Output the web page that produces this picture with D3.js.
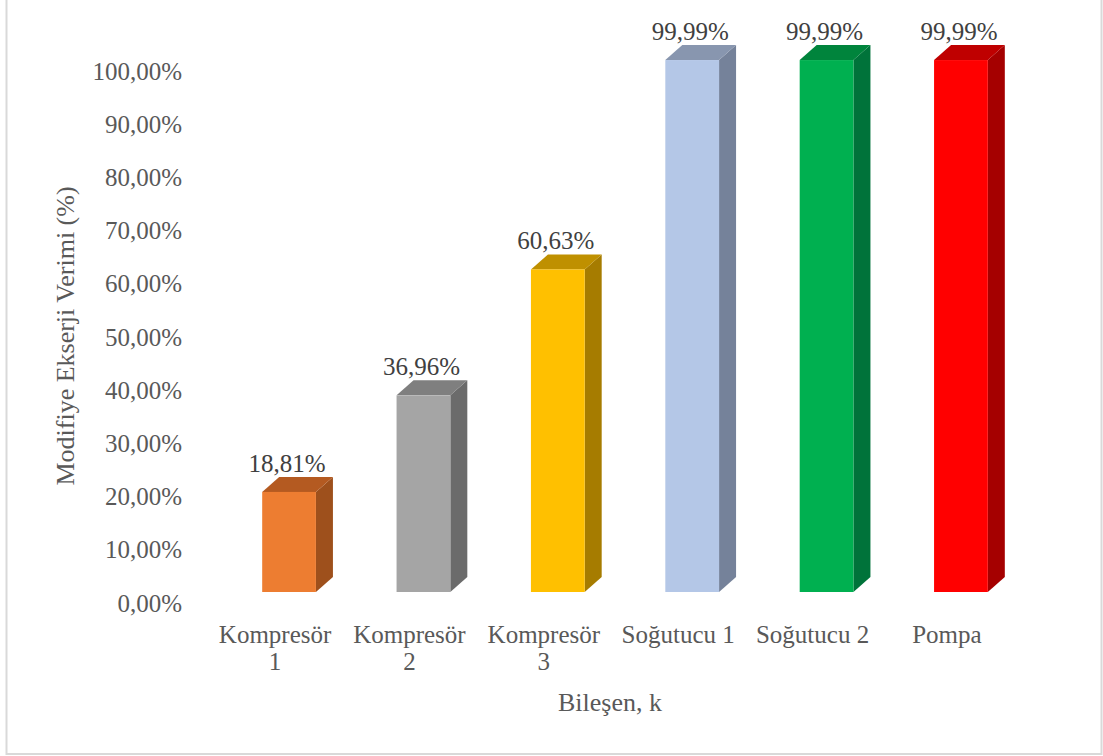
<!DOCTYPE html>
<html>
<head>
  <meta charset="utf-8">
  <title>Modifiye Ekserji Verimi</title>
  <script src="https://cdn.jsdelivr.net/npm/d3@7/dist/d3.min.js"></script>
  <style>
    body { margin: 0; background: #fff; }
  </style>
</head>
<body>
<script>
// veri
var categories = ["Kompresör 1", "Kompresör 2", "Kompresör 3", "Soğutucu 1", "Soğutucu 2", "Pompa"];
var categoryLines = [["Kompresör", "1"], ["Kompresör", "2"], ["Kompresör", "3"], ["Soğutucu 1"], ["Soğutucu 2"], ["Pompa"]];
var values = [18.81, 36.96, 60.63, 99.99, 99.99, 99.99];
var valueLabels = ["18,81%", "36,96%", "60,63%", "99,99%", "99,99%", "99,99%"];
var yTicks = [0, 10, 20, 30, 40, 50, 60, 70, 80, 90, 100];
// renkler: ön, yan, üst
var frontColors = ["#ED7D31", "#A5A5A5", "#FFC000", "#B4C7E7", "#00B050", "#FF0000"];
var sideColors  = ["#9E501C", "#6B6B6B", "#A67C00", "#75829A", "#00733A", "#A50000"];
var topColors   = ["#B45A21", "#7F7F7F", "#BF9000", "#8896AF", "#00843C", "#BF0000"];

var width = 1103, height = 756;
var depthX = 17, depthY = 15;
var FONT = "'Liberation Serif'";

var svg = d3.select("body").append("svg")
    .attr("width", width)
    .attr("height", height);

// çerçeve
svg.append("rect")
   .attr("x", 6.5).attr("y", -2)
   .attr("width", 1095).attr("height", 756)
   .attr("fill", "none")
   .attr("stroke", "#D9D9D9")
   .attr("stroke-width", 2);

var xScale = d3.scaleBand()
    .domain(categories)
    .range([195, 1055])
    .paddingInner(0.6)
    .paddingOuter(0.5);

var yScale = d3.scaleLinear()
    .domain([0, 100])
    .range([592, 60]);

// y ekseni etiketleri (Excel 3B: arka duvar hizası)
var yAxis = d3.axisLeft(yScale)
    .tickValues(yTicks)
    .tickSize(0)
    .tickPadding(0)
    .tickFormat(function(d){ return d3.format(".2f")(d).replace(".", ",") + "%"; });

var gy = svg.append("g")
    .attr("transform", "translate(182,11)")
    .call(yAxis);
gy.attr("font-family", null).attr("font-size", null);
gy.select(".domain").remove();
gy.selectAll("text")
  .style("font-family", FONT)
  .style("font-size", "25px")
  .style("fill", "#595959");

// çubuklar
var bars = svg.append("g").selectAll("g.bar")
    .data(values)
    .enter().append("g").attr("class", "bar");

var bw = xScale.bandwidth();

bars.append("path")   // yan yüz
    .attr("d", function(d, i){
        var x = xScale(categories[i]) + bw, y0 = yScale(0), y1 = yScale(d);
        return "M" + x + "," + y0 + "L" + x + "," + y1 +
               "L" + (x + depthX) + "," + (y1 - depthY) +
               "L" + (x + depthX) + "," + (y0 - depthY) + "Z";
    })
    .attr("fill", function(d, i){ return sideColors[i]; });

bars.append("path")   // üst yüz
    .attr("d", function(d, i){
        var x = xScale(categories[i]), y1 = yScale(d);
        return "M" + x + "," + y1 + "L" + (x + bw) + "," + y1 +
               "L" + (x + bw + depthX) + "," + (y1 - depthY) +
               "L" + (x + depthX) + "," + (y1 - depthY) + "Z";
    })
    .attr("fill", function(d, i){ return topColors[i]; });

bars.append("rect")   // ön yüz
    .attr("x", function(d, i){ return xScale(categories[i]); })
    .attr("y", function(d){ return yScale(d); })
    .attr("width", bw)
    .attr("height", function(d){ return yScale(0) - yScale(d); })
    .attr("fill", function(d, i){ return frontColors[i]; });

// değer etiketleri
bars.append("text")
    .attr("text-anchor", "middle")
    .attr("x", function(d, i){ return xScale(categories[i]) + bw / 2 - 2; })
    .attr("y", function(d){ return yScale(d) - depthY - 5; })
    .style("font-family", FONT)
    .style("font-size", "25px")
    .style("fill", "#404040")
    .text(function(d, i){ return valueLabels[i]; });

// kategori etiketleri (her satır ayrı metin)
var catGroups = svg.append("g").selectAll("g")
    .data(categoryLines)
    .enter().append("g")
    .attr("transform", function(d, i){
        return "translate(" + (xScale(categories[i]) + bw / 2 - 14) + ",643)";
    });
catGroups.selectAll("text")
    .data(function(d){ return d; })
    .enter().append("text")
    .attr("text-anchor", "middle")
    .attr("x", 0)
    .attr("y", function(d, j){ return j * 27; })
    .style("font-family", FONT)
    .style("font-size", "25px")
    .style("fill", "#595959")
    .text(function(d){ return d; });

// eksen başlıkları
svg.append("text")
   .attr("text-anchor", "middle")
   .attr("x", 610).attr("y", 711)
   .style("font-family", FONT)
   .style("font-size", "26px")
   .style("fill", "#595959")
   .text("Bileşen, k");

svg.append("text")
   .attr("text-anchor", "middle")
   .attr("transform", "translate(74,336) rotate(-90)")
   .style("font-family", FONT)
   .style("font-size", "26px")
   .style("fill", "#595959")
   .text("Modifiye Ekserji Verimi (%)");
</script>
</body>
</html>
